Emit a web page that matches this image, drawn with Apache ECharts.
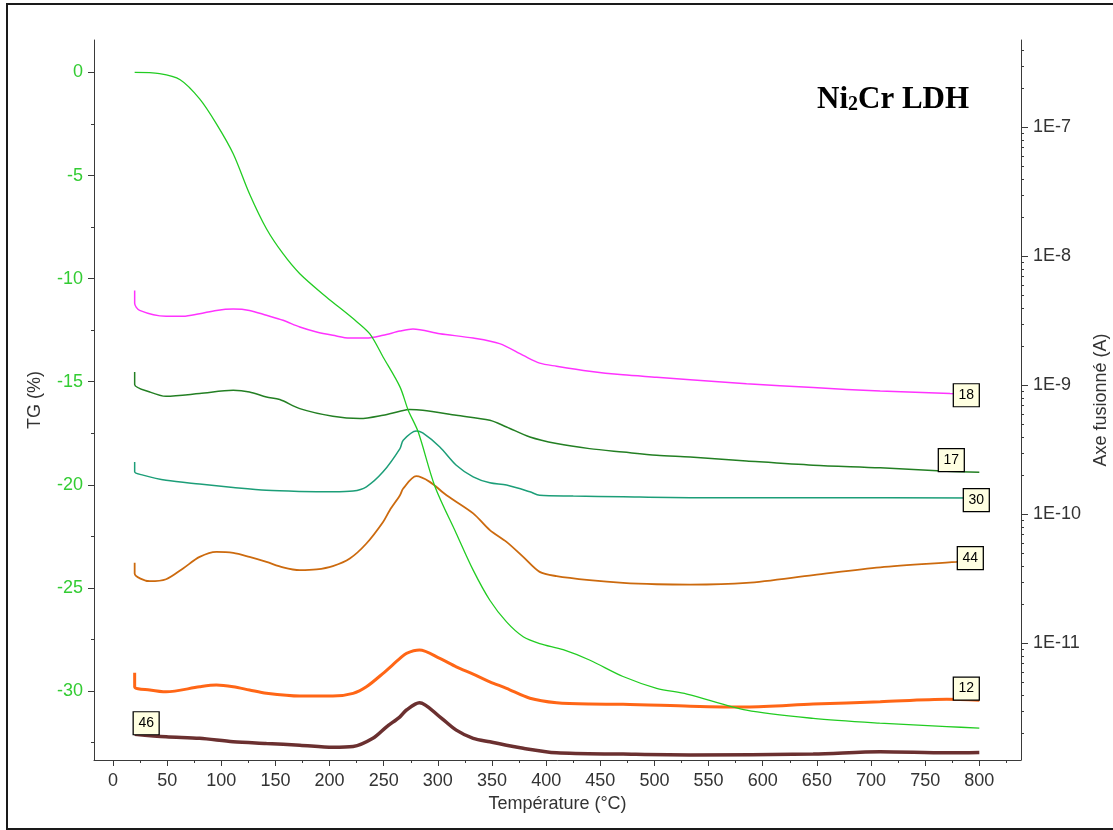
<!DOCTYPE html>
<html><head><meta charset="utf-8">
<script src="https://cdn.jsdelivr.net/npm/echarts@6/dist/echarts.min.js"></script>
<style>html,body{margin:0;padding:0;background:#fff}#c{width:1113px;height:830px}</style>
</head><body><div id="c"></div>
<script>
// ---------- data ----------
const xTickLabels = [0,50,100,150,200,250,300,350,400,450,500,550,600,650,700,750,800];
const tgTickLabels = [0,-5,-10,-15,-20,-25,-30];
const msDecadeTicks = [1e-11,1e-10,1e-9,1e-8,1e-7];

// TG curve (%), temperature in °C
const tgT   = [20,43,62,80,95.5,111,126,141.7,157,172.5,197,221.7,237,249.4,265,272.6,281.8,297.2,317,332.6,348,363.4,378.8,394,415.7,440,471,502,530,585,646.6,708,770,800];
const tgPct = [0,-0.06,-0.35,-1.28,-2.49,-3.94,-5.88,-7.58,-8.79,-9.76,-10.89,-11.94,-12.67,-13.8,-15.25,-16.38,-17.43,-20.07,-22.36,-24.14,-25.6,-26.65,-27.37,-27.7,-28.0,-28.5,-29.3,-29.87,-30.15,-30.93,-31.33,-31.56,-31.73,-31.8];

// MS ion currents (A)
const ms18T = [20,20,24.6,49,64.7,80,95.5,111,126,141.7,157,172.5,188,203,218.7,234,249.4,265,277,301.8,332.6,357,378.8,394,409.6,440,471,502,533,585,646.6,708.5,773,800];
const ms18A = [5.46e-9,4.33e-9,3.82e-9,3.44e-9,3.44e-9,3.60e-9,3.82e-9,3.91e-9,3.82e-9,3.50e-9,3.20e-9,2.84e-9,2.60e-9,2.45e-9,2.33e-9,2.33e-9,2.45e-9,2.64e-9,2.74e-9,2.52e-9,2.33e-9,2.11e-9,1.71e-9,1.49e-9,1.41e-9,1.29e-9,1.21e-9,1.16e-9,1.11e-9,1.03e-9,9.63e-10,9.06e-10,8.66e-10,8.55e-10];

const ms17T = [20,20,34,49,80,111,126,141.7,154,172.5,203,228,249.4,265,274,286,317,348,363.4,385,409.6,440,471,502,533,585,646.6,708.5,770,800];
const ms17A = [1.27e-9,1.02e-9,8.91e-10,8.25e-10,8.66e-10,9.18e-10,8.91e-10,8.15e-10,7.78e-10,6.62e-10,5.77e-10,5.54e-10,5.88e-10,6.31e-10,6.51e-10,6.43e-10,5.88e-10,5.37e-10,4.77e-10,3.99e-10,3.55e-10,3.24e-10,3.05e-10,2.88e-10,2.79e-10,2.60e-10,2.41e-10,2.30e-10,2.16e-10,2.13e-10];

const ms30T = [20,20,27.7,49,80,111,141.7,172.5,203,221.7,234,249.4,265,268,280,286,301.8,317,332.6,348,363.4,385,394,425,471,533,650,800];
const ms30A = [2.55e-10,2.14e-10,2.02e-10,1.84e-10,1.72e-10,1.62e-10,1.54e-10,1.51e-10,1.50e-10,1.52e-10,1.64e-10,2.14e-10,3.24e-10,3.76e-10,4.44e-10,4.29e-10,3.34e-10,2.41e-10,1.96e-10,1.76e-10,1.69e-10,1.50e-10,1.41e-10,1.39e-10,1.37e-10,1.35e-10,1.35e-10,1.34e-10];

const ms44T = [20,20,34,49,64.7,80,95.5,111,126,141.7,157,172.5,188,203,218.7,234,249.4,255.6,265,268,280,292.5,308,332.6,348,363.4,378.8,394,409.6,440,471,502,533,585,646.6,708.5,779,800];
const ms44A = [4.22e-11,3.49e-11,3.04e-11,3.15e-11,3.82e-11,4.69e-11,5.13e-11,5.04e-11,4.69e-11,4.29e-11,3.89e-11,3.70e-11,3.75e-11,3.98e-11,4.56e-11,5.96e-11,8.76e-11,1.08e-10,1.41e-10,1.59e-10,1.98e-10,1.79e-10,1.41e-10,1.02e-10,7.56e-11,6.13e-11,4.69e-11,3.59e-11,3.33e-11,3.10e-11,2.95e-11,2.88e-11,2.86e-11,2.95e-11,3.39e-11,3.89e-11,4.29e-11,4.43e-11];

const ms12T = [20,20,34,49,80,95.5,111,126,141.7,172.5,203,221.7,234,249.4,265,271,283,301.8,317,332.6,348,363.4,385,409.6,440,471,533,585,646.6,708.5,770,800];
const ms12A = [5.93e-12,4.62e-12,4.36e-12,4.22e-12,4.62e-12,4.76e-12,4.62e-12,4.36e-12,4.11e-12,3.91e-12,3.91e-12,4.11e-12,4.62e-12,5.87e-12,7.66e-12,8.38e-12,8.89e-12,7.66e-12,6.60e-12,5.79e-12,5.05e-12,4.49e-12,3.76e-12,3.47e-12,3.39e-12,3.38e-12,3.27e-12,3.22e-12,3.39e-12,3.53e-12,3.69e-12,3.64e-12];

const ms46T = [20,49,80,111,141.7,172.5,203,221.7,240,252.6,265,271,283,301.8,317,332.6,348,378.8,409.6,471,533,646.6,708.5,770,800];
const ms46A = [1.98e-12,1.89e-12,1.84e-12,1.73e-12,1.68e-12,1.63e-12,1.57e-12,1.59e-12,1.84e-12,2.26e-12,2.70e-12,3.05e-12,3.47e-12,2.70e-12,2.13e-12,1.84e-12,1.73e-12,1.54e-12,1.42e-12,1.39e-12,1.37e-12,1.39e-12,1.45e-12,1.42e-12,1.43e-12];

// ---------- chart ----------
const FONT = "'Liberation Sans', Arial, sans-serif";
const AX = '#3a3a3a';
const X_MIN = -17.55, X_MAX = 838.5;
const TG_MIN = -33.35, TG_MAX = 1.575;
const LG_MIN = -11.903, LG_MAX = -6.322;

const xMinor = xTickLabels.map(v => v + 25);
const tgMinor = tgTickLabels.map(v => v - 2.5);
const lgMajor = msDecadeTicks.map(v => Math.round(Math.log10(v)));
const lgMinor = [];
for (let n = -12; n <= -7; n++) for (let k = 2; k <= 9; k++) {
  const v = Math.log10(k) + n;
  if (v > LG_MIN && v < LG_MAX) lgMinor.push(v);
}

function baseAxis(extra) {
  return Object.assign({
    type: 'value',
    splitLine: {show: false},
    axisLine: {show: true, onZero: false, lineStyle: {color: AX, width: 1}},
  }, extra);
}

function ms(name, T, A, color, width, labelAtStart, offset) {
  const data = T.map((t, i) => [t, Math.log10(A[i])]);
  const idx = labelAtStart ? 0 : data.length - 1;
  return {
    type: 'line', name, xAxisIndex: 0, yAxisIndex: 2, data,
    showSymbol: false, smooth: 0.3, animation: false,
    emphasis: {disabled: true},
    lineStyle: {color, width}, itemStyle: {color},
    markPoint: {
      silent: true, symbol: 'rect', symbolSize: [26, 23], symbolOffset: offset,
      itemStyle: {color: '#ffffe1', borderColor: '#000', borderWidth: 1.2},
      label: {show: true, position: 'inside', formatter: name, color: '#000', fontSize: 14, fontFamily: FONT},
      data: [{name, coord: data[idx]}]
    }
  };
}

const chart = echarts.init(document.getElementById('c'));
chart.setOption({
  animation: false,
  backgroundColor: '#fff',
  title: {
    text: '{a|Ni}{s|2}{a|Cr LDH}',
    left: 812, top: 79,
    textStyle: {
      rich: {
        a: {fontFamily: "'Liberation Serif', 'Times New Roman', serif", fontWeight: 'bold', fontSize: 31, color: '#000'},
        s: {fontFamily: "'Liberation Serif', 'Times New Roman', serif", fontWeight: 'bold', fontSize: 20, color: '#000', verticalAlign: 'bottom'}
      }
    }
  },
  graphic: [{
    type: 'rect', silent: true, z: 100,
    shape: {x: 7, y: 4, width: 1112, height: 825},
    style: {fill: 'none', stroke: '#1a1a1a', lineWidth: 2}
  }],
  grid: {left: 94, right: 92, top: 40, bottom: 70, containLabel: false, outerBoundsMode: 'none'},
  xAxis: [
    baseAxis({
      min: X_MIN, max: X_MAX, position: 'bottom',
      axisTick: {show: true, length: 6, customValues: xTickLabels, lineStyle: {color: AX}},
      axisLabel: {customValues: xTickLabels, fontSize: 18, color: '#333', fontFamily: FONT, margin: 12},
      name: 'Température (°C)', nameLocation: 'middle', nameGap: 33,
      nameTextStyle: {fontSize: 18, color: '#333', fontFamily: FONT}
    }),
    baseAxis({
      min: X_MIN, max: X_MAX, position: 'bottom',
      axisLine: {show: false, onZero: false},
      axisTick: {show: true, length: 3, customValues: xMinor, lineStyle: {color: AX}},
      axisLabel: {show: false}
    })
  ],
  yAxis: [
    baseAxis({
      min: TG_MIN, max: TG_MAX, position: 'left',
      axisTick: {show: true, length: 6, customValues: tgTickLabels, lineStyle: {color: AX}},
      axisLabel: {customValues: tgTickLabels, fontSize: 18, color: '#33cc33', fontFamily: FONT, margin: 11},
      name: 'TG (%)', nameLocation: 'middle', nameGap: 50, nameRotate: 90,
      nameTextStyle: {fontSize: 18, color: '#333', fontFamily: FONT}
    }),
    baseAxis({
      min: TG_MIN, max: TG_MAX, position: 'left',
      axisLine: {show: false, onZero: false},
      axisTick: {show: true, length: 3, customValues: tgMinor, lineStyle: {color: AX}},
      axisLabel: {show: false}
    }),
    baseAxis({
      min: LG_MIN, max: LG_MAX, position: 'right',
      axisTick: {show: true, length: 7, customValues: lgMajor, lineStyle: {color: AX}},
      axisLabel: {customValues: lgMajor, fontSize: 18, color: '#333', fontFamily: FONT, margin: 12,
        formatter: v => '1E' + Math.round(v)},
      name: 'Axe fusionné (A)', nameLocation: 'middle', nameGap: 67, nameRotate: 90,
      nameTextStyle: {fontSize: 18, color: '#333', fontFamily: FONT}
    }),
    baseAxis({
      min: LG_MIN, max: LG_MAX, position: 'right',
      axisLine: {show: false, onZero: false},
      axisTick: {show: true, length: 3, customValues: lgMinor, lineStyle: {color: AX}},
      axisLabel: {show: false}
    })
  ],
  series: [
    ms('18', ms18T, ms18A, '#ff33ff', 1.5, false, [-13, 1]),
    ms('17', ms17T, ms17A, '#237f23', 1.5, false, [-28, -12]),
    ms('30', ms30T, ms30A, '#1c9e78', 1.5, false, [-3, 2]),
    ms('44', ms44T, ms44A, '#cc6a0e', 1.8, false, [-9, -2]),
    ms('12', ms12T, ms12A, '#ff6616', 3, false, [-13, -11.5]),
    ms('46', ms46T, ms46A, '#6b3030', 3.5, true, [11.5, -11]),
    {
      type: 'line', name: 'TG', xAxisIndex: 0, yAxisIndex: 0,
      data: tgT.map((t, i) => [t, tgPct[i]]),
      showSymbol: false, smooth: 0.3, emphasis: {disabled: true},
      lineStyle: {color: '#22cc22', width: 1.3}, itemStyle: {color: '#22cc22'}
    }
  ]
});
</script>
</body></html>
